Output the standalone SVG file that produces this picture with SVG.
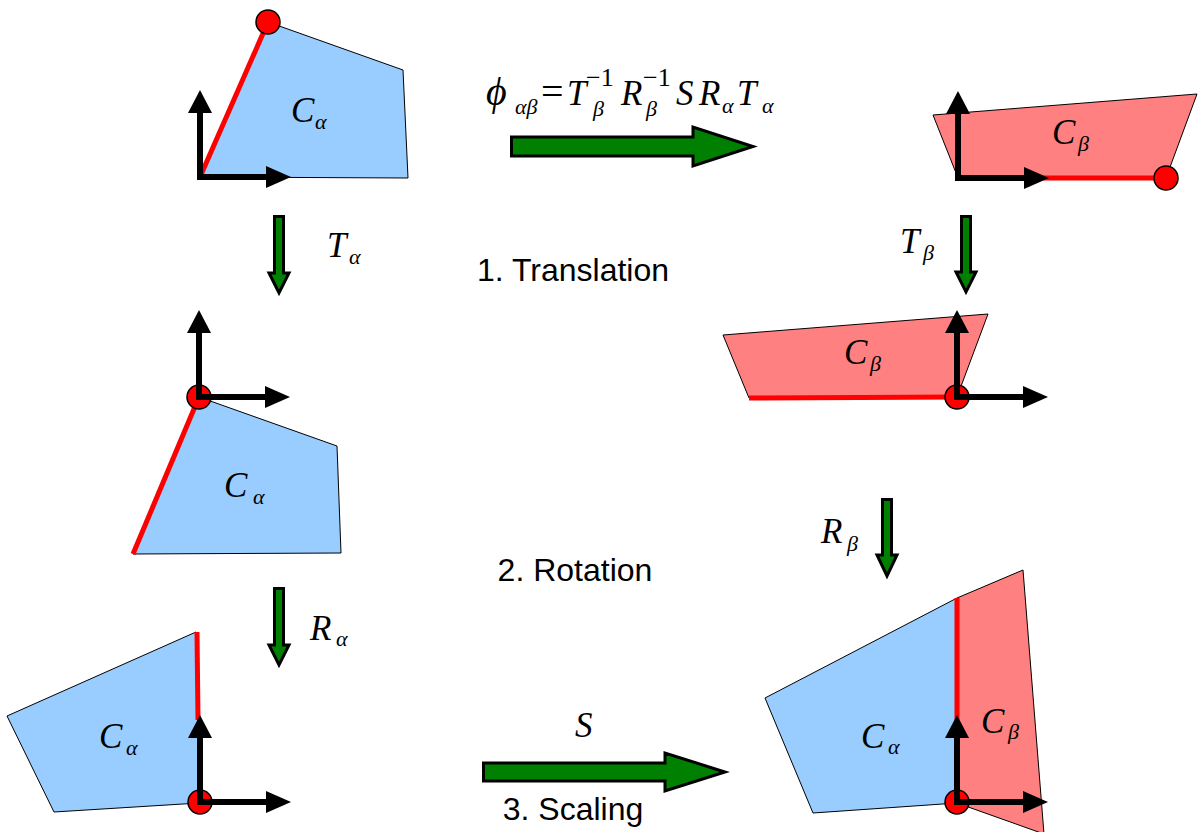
<svg xmlns="http://www.w3.org/2000/svg" width="1198" height="832" viewBox="0 0 1198 832">
<defs>
<style>
.blue{fill:#99ccff;stroke:#000;stroke-width:1}
.pink{fill:#ff8080;stroke:#000;stroke-width:1}
.edge{stroke:#ff0000;stroke-width:5;fill:none}
.dot{fill:#ff0000;stroke:#000;stroke-width:1.5}
.ax{stroke:#000;stroke-width:6;fill:none}
.ah{fill:#000}
.garrow{fill:#008000;stroke:#000;stroke-width:3;stroke-linejoin:miter}
.m{font-family:"Liberation Serif","Times New Roman",serif;font-style:italic;font-size:35px;fill:#000}
.s{font-size:22px}
.sup{font-style:normal;font-size:26px}
.lbl{font-family:"Liberation Sans",Arial,sans-serif;font-size:32px;text-anchor:middle;fill:#000}
</style>
<g id="axes">
<line class="ax" x1="0" y1="3" x2="0" y2="-64"/>
<polygon class="ah" points="-12,-64 12,-64 0,-87"/>
<line class="ax" x1="-3" y1="0" x2="67" y2="0"/>
<polygon class="ah" points="66,-11 66,11 91,0"/>
</g>
</defs>
<rect width="1198" height="832" fill="#fff"/>

<g id="panel-alpha-original">
<polygon class="blue" points="200,177 268,22 403,70 408,178"/>
<line class="edge" x1="200" y1="177" x2="268" y2="22"/>
<circle class="dot" cx="268" cy="22" r="12"/>
<use href="#axes" x="200" y="177"/>
<text class="m" x="291" y="122">C<tspan class="s" x="315" y="129">α</tspan></text>
</g>

<g id="panel-alpha-translated">
<polygon class="blue" points="199,397 337,446 341,553 133,554"/>
<line class="edge" x1="199" y1="397" x2="133" y2="554"/>
<circle class="dot" cx="199" cy="397" r="12"/>
<use href="#axes" x="199" y="397"/>
<text class="m" x="224" y="497">C<tspan class="s" x="253" y="504">α</tspan></text>
</g>

<g id="panel-alpha-rotated">
<polygon class="blue" points="196,632 7,716 54,812 199,803"/>
<line class="edge" x1="197" y1="632" x2="198" y2="720"/>
<circle class="dot" cx="200" cy="802" r="12"/>
<use href="#axes" x="200" y="802"/>
<text class="m" x="99" y="748">C<tspan class="s" x="126" y="755">α</tspan></text>
</g>

<g id="panel-beta-original">
<polygon class="pink" points="933,115 1197,94 1166,178 958,178"/>
<line class="edge" x1="958" y1="178" x2="1166" y2="178"/>
<circle class="dot" cx="1166" cy="178" r="12"/>
<use href="#axes" x="958" y="178"/>
<text class="m" x="1052" y="144">C<tspan class="s" x="1078" y="151">β</tspan></text>
</g>

<g id="panel-beta-translated">
<polygon class="pink" points="723,335 988,314 957,397 749,398"/>
<line class="edge" x1="749" y1="398" x2="957" y2="397"/>
<circle class="dot" cx="957" cy="397" r="12"/>
<use href="#axes" x="957" y="397"/>
<text class="m" x="844" y="364">C<tspan class="s" x="870" y="371">β</tspan></text>
</g>

<g id="panel-combined">
<polygon class="pink" points="957,598 1023,570 1044,834 957,803"/>
<polygon class="blue" points="957,598 765,698 813,813 957,803"/>
<line class="edge" x1="957" y1="598" x2="957" y2="720"/>
<circle class="dot" cx="957" cy="802" r="12"/>
<use href="#axes" x="957" y="802"/>
<text class="m" x="861" y="748">C<tspan class="s" x="888" y="754">α</tspan></text>
<text class="m" x="981" y="733">C<tspan class="s" x="1008" y="739">β</tspan></text>
</g>

<g id="connectors">
<path class="garrow" d="M511.5,137 L693,137 L693,127 L753,146.5 L693,166 L693,156 L511.5,156 Z"/>
<path class="garrow" d="M483.5,763 L665,763 L665,753 L725,772 L665,791 L665,781 L483.5,781 Z"/>
<path class="garrow" d="M274.5,216.5 L283.5,216.5 L283.5,273 L289,273 L279,293 L269,273 L274.5,273 Z"/>
<path class="garrow" d="M961.5,216.5 L970.5,216.5 L970.5,272 L976,272 L966,292 L956,272 L961.5,272 Z"/>
<path class="garrow" d="M882.5,499.5 L891.5,499.5 L891.5,555 L897,555 L887,576 L877,555 L882.5,555 Z"/>
<path class="garrow" d="M274.5,588.5 L283.5,588.5 L283.5,645 L289,645 L279,665 L269,645 L274.5,645 Z"/>
</g>

<g id="labels">
<text class="m"><tspan font-size="40px" x="486" y="105">ϕ</tspan><tspan class="s" x="515" y="114">αβ</tspan><tspan font-style="normal" font-size="40px" x="541" y="105">=</tspan><tspan x="567" y="105">T</tspan><tspan class="sup" x="586" y="86">−1</tspan><tspan class="s" x="593" y="116">β</tspan><tspan x="621" y="105">R</tspan><tspan class="sup" x="643" y="86">−1</tspan><tspan class="s" x="646" y="116">β</tspan><tspan x="676" y="105">S</tspan><tspan x="699" y="105">R</tspan><tspan class="s" x="722" y="113">α</tspan><tspan x="737" y="105">T</tspan><tspan class="s" x="762" y="113">α</tspan></text>
<text class="m" x="327" y="257">T<tspan class="s" x="349" y="264">α</tspan></text>
<text class="m" x="900" y="253">T<tspan class="s" x="923" y="260">β</tspan></text>
<text class="m" x="821" y="543">R<tspan class="s" x="847" y="551">β</tspan></text>
<text class="m" x="310" y="640">R<tspan class="s" x="336" y="646">α</tspan></text>
<text class="m" x="575" y="737">S</text>
<text class="lbl" x="573" y="281">1. Translation</text>
<text class="lbl" x="575" y="581">2. Rotation</text>
<text class="lbl" x="573" y="820">3. Scaling</text>
</g>
</svg>
